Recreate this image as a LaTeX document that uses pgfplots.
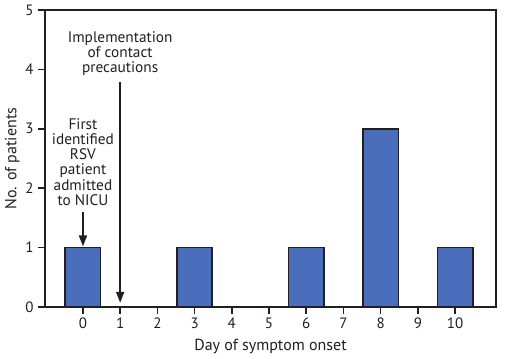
\documentclass[border=0pt]{standalone}
\usepackage{fontspec}
\setmainfont{PT Sans}
\usepackage{pgfplots}
\pgfplotsset{compat=1.18}
\usetikzlibrary{arrows.meta}
\definecolor{barblue}{RGB}{74,110,188}
\definecolor{ink}{RGB}{35,31,32}
\begin{document}
\begin{tikzpicture}
\begin{axis}[
  scale only axis,
  width=451bp, height=297bp,
  xmin=-1.02, xmax=11.1,
  ymin=0, ymax=5,
  xtick={0,1,2,3,4,5,6,7,8,9,10},
  ytick={0,1,2,3,4,5},
  xtick pos=bottom, ytick pos=left,
  tick align=outside,
  major tick length=7bp,
  tick style={line width=1.6bp, color=ink},
  axis line style={line width=1.8bp, color=ink},
  /pgf/number format/assume math mode=true,
  ticklabel style={font=\fontsize{15bp}{16bp}\selectfont, text=ink},
  xticklabel style={yshift=0bp},
  yticklabel style={xshift=-1bp},
  xlabel={Day of symptom onset},
  ylabel={No. of patients},
  label style={font=\fontsize{16bp}{17bp}\selectfont, text=ink},
  xlabel style={yshift=-4bp},
  ylabel style={yshift=-1bp},
  ybar, bar width=0.95,
]
\addplot[fill=barblue, draw=ink, line width=1.6bp] coordinates {(0,1) (3,1) (6,1) (8,3) (10,1)};
\coordinate (sw) at (rel axis cs:0,0);
\coordinate (ne) at (rel axis cs:1,1);
\node[align=center, text=ink, font=\fontsize{15.3bp}{15bp}\selectfont, anchor=north] at (axis cs:1,4.7) {Implementation\\of contact\\precautions};
\node[align=center, text=ink, font=\fontsize{15.3bp}{15.3bp}\selectfont, anchor=south] at (axis cs:0,1.645) {First\\identified\\RSV\\patient\\admitted\\to NICU};
\draw[ink, line width=1.6bp, -{Triangle[length=11bp,width=8bp]}] (axis cs:1,3.79) -- (axis cs:1,0.07);
\draw[ink, line width=1.6bp, -{Triangle[length=11bp,width=8bp]}] (axis cs:0,1.6) -- (axis cs:0,1.02);
\end{axis}
\pgfresetboundingbox
\path ([xshift=-45bp,yshift=-52bp]sw) rectangle ([xshift=12bp,yshift=10bp]ne);
\end{tikzpicture}
\end{document}
